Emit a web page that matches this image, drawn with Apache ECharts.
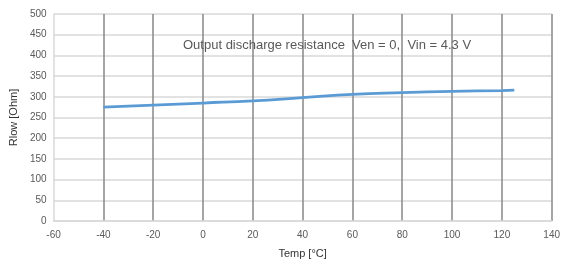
<!DOCTYPE html>
<html>
<head>
<meta charset="utf-8">
<script src="https://cdn.jsdelivr.net/npm/echarts@6/dist/echarts.min.js"></script>
<style>
html, body { margin: 0; padding: 0; background: #fff; }
#container { width: 563px; height: 264px; }
</style>
</head>
<body>
<div id="container"></div>
<script>
var temps = [-40, -20, 0, 20, 40, 60, 80, 100, 120, 125];
var rlow = [275, 280, 285, 290, 298, 306, 310, 313, 315, 316];
var chartTitle = 'Output discharge resistance  Ven = 0,  Vin = 4.3 V';

var data = temps.map(function (t, i) { return [t, rlow[i]]; });
var myChart = echarts.init(document.getElementById('container'));

// first vertical line is the y axis (light), the rest are dark
var vColors = ['#d9d9d9'];
for (var i = 0; i < 10; i++) vColors.push('#878787');

var option = {
    animation: false,
    textStyle: { fontFamily: 'Liberation Sans, Arial, sans-serif' },
    title: {
        text: chartTitle,
        left: 178,
        top: 34,
        textStyle: { fontSize: 13, fontWeight: 'normal', color: '#595959' }
    },
    grid: { left: 53, right: 11, top: 14, bottom: 43 },
    xAxis: {
        type: 'value',
        min: -60, max: 140, interval: 20,
        name: 'Temp [°C]',
        nameLocation: 'middle',
        nameGap: 27,
        nameTextStyle: { fontSize: 11, color: '#333' },
        axisLine: { show: true, lineStyle: { color: '#d9d9d9', width: 1.5 } },
        axisTick: { show: false },
        axisLabel: { fontSize: 10, color: '#595959', margin: 9 },
        splitLine: { show: true, lineStyle: { color: vColors, width: 1.5 } }
    },
    yAxis: {
        type: 'value',
        min: 0, max: 500, interval: 50,
        name: 'Rlow [Ohm]',
        nameLocation: 'middle',
        nameGap: 34,
        nameTextStyle: { fontSize: 11, color: '#333' },
        axisLine: { show: false },
        axisTick: { show: false },
        axisLabel: { fontSize: 10, color: '#595959', margin: 7 },
        splitLine: { show: true, lineStyle: { color: '#d9d9d9', width: 1.5 } }
    },
    series: [{
        type: 'line',
        data: data,
        showSymbol: false,
        smooth: true,
        lineStyle: { color: '#5b9bd5', width: 2.75 }
    }]
};
myChart.setOption(option);
</script>
</body>
</html>
